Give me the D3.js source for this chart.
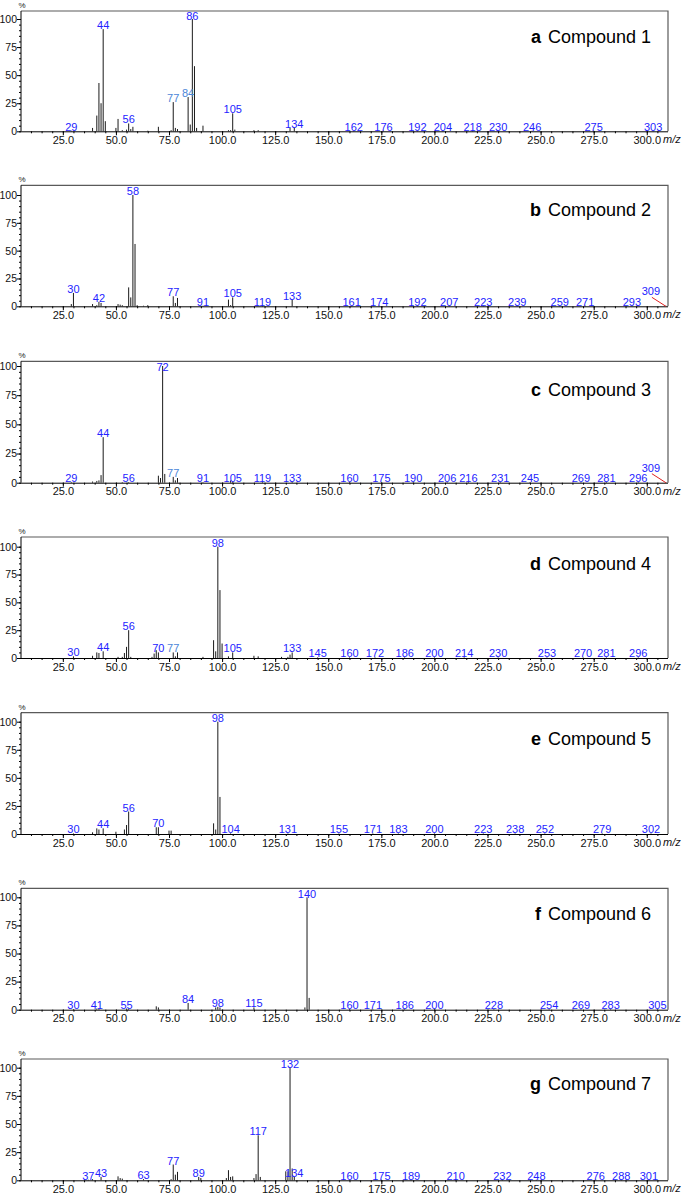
<!DOCTYPE html>
<html><head><meta charset="utf-8">
<script src="https://cdn.jsdelivr.net/npm/d3@7"></script>
<style>
html,body{margin:0;padding:0;background:#fff;}
svg{display:block;font-family:"Liberation Sans",Arial,sans-serif;}
</style></head>
<body><svg id="chart" width="685" height="1196"></svg>
<script>
// ---------- data ----------
const panelLetters = ["a","b","c","d","e","f","g"];
const compoundNames = ["Compound 1","Compound 2","Compound 3","Compound 4","Compound 5","Compound 6","Compound 7"];
const xTickValues = [25,50,75,100,125,150,175,200,225,250,275,300];
const yTickValues = [0,25,50,75,100];

// Compound 1
const mz1  = [29,39,41,42,43,44,45,50,51,53,55,56,57,58,65,70,76,77,78,79,84,85,86,87,88,91,103,104,105,106,115,117,132,134,162,176,192,204,218,230,246,275,303];
const int1 = [0.5,3,14,43,25,91,9,3,11,1,1.5,7,2,4,0.5,4,1,26,3,2,30.5,6,100,58,3,5,1,1,16,1.5,1,1,3,3,0.5,0.5,0.5,0.5,0.5,0.5,0.5,0.5,0.5];
const lab1 = [29,44,56,77,84,86,105,134,162,176,192,204,218,230,246,275,303];
// Compound 2
const mz2  = [29,30,39,41,42,43,51,52,53,56,57,58,59,60,63,65,77,78,79,91,103,104,105,119,133,161,174,192,207,223,239,259,271,293,309];
const int2 = [2,12,2,1,4,3,2,1.5,1,17,8,100,56,1,0.5,1,9,3,7.5,0.5,6,1,8,0.5,6,0.5,0.5,0.5,0.5,0.5,0.5,0.5,0.5,0.5,0.5];
const lab2 = [30,42,58,77,91,105,119,133,161,174,192,207,223,239,259,271,293,309];
// Compound 3
const mz3  = [29,39,41,42,43,44,53,56,70,71,72,73,77,78,79,91,104,105,119,133,160,175,190,206,216,231,245,269,281,296,309];
const int3 = [0.5,1,1.5,2,6.5,39,0.5,0.5,6,4,100,7.5,5,2,4,0.5,2,1,0.5,1,0.5,0.5,0.5,0.5,0.5,0.5,0.5,0.5,0.5,0.5,0.5];
const lab3 = [29,44,56,72,77,91,105,119,133,160,175,190,206,216,231,245,269,281,296,309];
// Compound 4
const mz4  = [30,39,41,42,44,51,53,54,55,56,57,67,68,69,70,77,78,79,91,96,97,98,99,100,103,105,115,117,128,131,132,133,145,160,172,186,200,214,230,253,270,281,296];
const int4 = [1.5,2,5,4.5,6,1,1,4.5,10,25,1,1,4,7,5,5,1.5,5,1,16,6,100,61,13,1.5,5,2,1.5,1,1,3,5,0.5,0.5,0.5,0.5,0.5,0.5,0.5,0.5,0.5,0.5,0.5];
const lab4 = [30,44,56,70,77,98,105,133,145,160,172,186,200,214,230,253,270,281,296];
// Compound 5
const mz5  = [30,39,41,42,44,50,54,55,56,69,70,75,76,96,97,98,99,104,131,155,171,183,200,223,238,252,279,302];
const int5 = [0.5,1.5,5,4,5,2,4,8,20,6,6,3,3,9.5,4,100,33,0.5,0.5,0.5,0.5,0.5,0.5,0.5,0.5,0.5,0.5,0.5];
const lab5 = [30,44,56,70,98,104,131,155,171,183,200,223,238,252,279,302];
// Compound 6
const mz6  = [30,41,42,55,56,69,70,84,97,98,99,115,139,140,141,160,171,186,200,228,254,269,283,305];
const int6 = [0.5,1,1,1,1,3,2,6,2,2.5,2,2,2,100,10.5,0.5,0.5,0.5,0.5,0.5,0.5,0.5,0.5,0.5];
const lab6 = [30,41,55,84,98,115,140,160,171,186,200,228,254,269,283,305];
// Compound 7
const mz7  = [37,39,43,51,52,53,63,76,77,78,79,89,90,102,103,104,105,115,116,117,118,130,131,132,133,134,160,175,189,210,232,248,276,288,301];
const int7 = [0.5,1,3,3.5,2,1.5,1,1,14,5,7.5,3,2,2,9,3,3.5,2,5.5,40,3,8,8,100,10.5,3,0.5,0.5,0.5,0.5,0.5,0.5,0.5,0.5,0.5];
const lab7 = [37,43,63,77,89,117,132,134,160,175,189,210,232,248,276,288,301];

const lightLabels = [[77,84],[],[77],[77],[],[],[]];

// ---------- layout ----------
const panels = [
  {mz:mz1,it:int1,lab:lab1},{mz:mz2,it:int2,lab:lab2},{mz:mz3,it:int3,lab:lab3},
  {mz:mz4,it:int4,lab:lab4},{mz:mz5,it:int5,lab:lab5},{mz:mz6,it:int6,lab:lab6},{mz:mz7,it:int7,lab:lab7}
];
const frameTop = [11,185.3,361.3,537,712.7,888.3,1059];
const yZero    = [131.3,306.3,482.7,658,834,1009.7,1180.3];
const yHundred = [19,195,366,546.7,721.7,897.3,1067.7];
const titleOff = [32,30.5,35,33,32,32,31];
const left = 21, right = 668;
const x = d3.scaleLinear().domain([5.3,310]).range([left,right]);

const svg = d3.select("#chart");
const blue = "#2323ff", lightBlue = "#4b86d8";
const labelSize = "11px";

panels.forEach((p,i)=>{
  const top = frameTop[i], y0 = yZero[i];
  const yMax = (y0 - top)/(y0 - yHundred[i])*100;
  const y = d3.scaleLinear().domain([0,yMax]).range([y0,top]);
  const g = svg.append("g");

  // frame top & right
  g.append("path").attr("d",`M${left},${top}H${right}V${y0}`)
    .attr("fill","none").attr("stroke","#5a5a5a").attr("stroke-width",1.2);

  // peaks
  g.selectAll("line.pk").data(p.mz.map((m,k)=>({m,v:p.it[k]}))).join("line")
    .attr("class","pk")
    .attr("x1",d=>x(d.m)).attr("x2",d=>x(d.m))
    .attr("y1",y(0)).attr("y2",d=>y(d.v))
    .attr("stroke","#1a1a1a").attr("stroke-width",1);

  // axes minor
  const xMinor = d3.range(10,310,5);
  g.append("g").attr("transform",`translate(0,${y0})`)
    .call(d3.axisBottom(x).tickValues(xMinor).tickSize(2).tickFormat(""))
    .call(s=>s.select(".domain").remove())
    .call(s=>s.selectAll("line").attr("stroke","#000"));
  g.append("g").attr("transform",`translate(0,${y0})`)
    .call(d3.axisBottom(x).tickValues(xTickValues).tickSize(4).tickSizeOuter(0).tickFormat(d3.format(".1f")))
    .call(s=>s.select(".domain").attr("stroke","#000").attr("d",`M${left},0.5H${right}`))
    .call(s=>s.selectAll("line").attr("stroke","#000"))
    .call(s=>s.selectAll("text").attr("font-size","11px").attr("fill","#111").attr("y",5).attr("dy","0.71em")
      .attr("font-family","'Liberation Sans',Arial,sans-serif"));

  const yMinor = d3.range(0,101,5);
  g.append("g").attr("transform",`translate(${left},0)`)
    .call(d3.axisLeft(y).tickValues(yMinor).tickSize(2).tickFormat(""))
    .call(s=>s.select(".domain").remove())
    .call(s=>s.selectAll("line").attr("stroke","#000"));
  g.append("g").attr("transform",`translate(${left},0)`)
    .call(d3.axisLeft(y).tickValues(yTickValues).tickSize(4).tickSizeOuter(0))
    .call(s=>s.select(".domain").attr("stroke","#000").attr("d",`M0,${top}V${y0}`))
    .call(s=>s.selectAll("line").attr("stroke","#000"))
    .call(s=>s.selectAll("text").attr("font-size","10.5px").attr("fill","#111").attr("x",-4)
      .attr("font-family","'Liberation Sans',Arial,sans-serif"));

  // % and m/z
  g.append("text").attr("x",left+1).attr("y",top-3).attr("text-anchor","middle")
    .attr("font-size","8px").attr("fill","#222").text("%");
  g.append("text").attr("x",663).attr("y",y0+12).attr("font-size","11px")
    .attr("font-style","italic").attr("fill","#111").text("m/z");

  // peak labels
  p.lab.forEach(m=>{
    const k = p.mz.indexOf(m);
    const v = k>=0 ? p.it[k] : 0;
    const px = x(m);
    const col = lightLabels[i].includes(m) ? lightBlue : blue;
    if (px + 8 > right) {
      const lx = px - 15, ly = y0 - 11;
      g.append("line").attr("x1",px-14).attr("y1",y0-9).attr("x2",px).attr("y2",y0)
        .attr("stroke","#e02020").attr("stroke-width",1);
      g.append("text").attr("x",lx).attr("y",ly).attr("text-anchor","middle")
        .attr("font-size",labelSize).attr("fill",col).text(m);
    } else {
      const ly = Math.max(y(v), top + 9.2);
      g.append("text").attr("x",px).attr("y",ly).attr("text-anchor","middle")
        .attr("font-size",labelSize).attr("fill",col).text(m);
    }
  });

  // title
  const t = g.append("text").attr("x",651).attr("y",top+titleOff[i]).attr("text-anchor","end")
    .attr("font-size","18px").attr("fill","#000");
  t.append("tspan").attr("font-weight","bold").text(panelLetters[i]);
  t.append("tspan").attr("dx",7).text(compoundNames[i]);
});
</script>
</body></html>
